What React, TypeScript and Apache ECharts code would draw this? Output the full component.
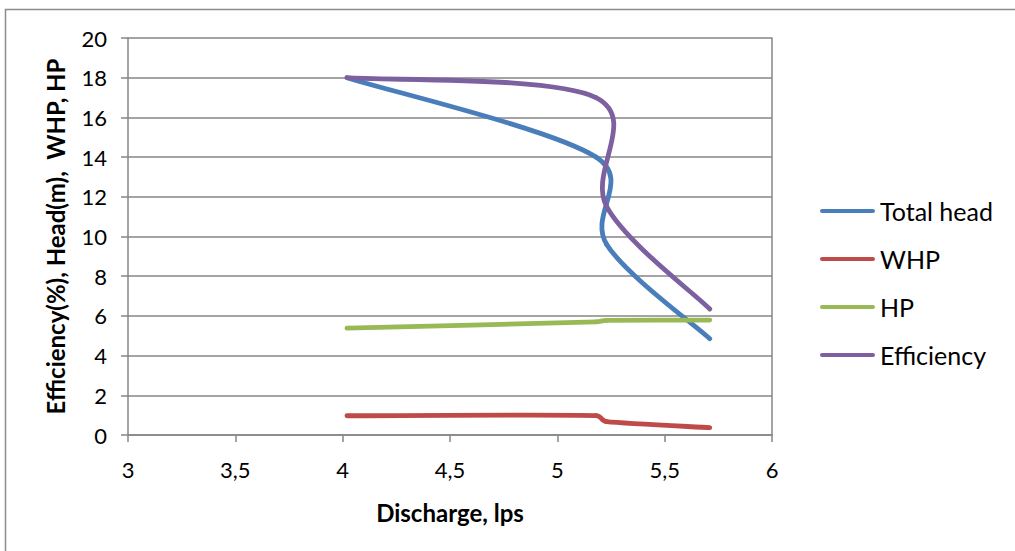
import React, { useEffect, useRef } from "react";
import * as echarts from "echarts";

// ---- data ----
const discharge = [4.02, 5.18, 5.23, 5.71];
const totalHead = [18.0, 14.0, 9.6, 4.85];
const whp = [0.97, 0.98, 0.67, 0.37];
const hp = [5.38, 5.7, 5.77, 5.79];
const efficiency = [18.0, 17.0, 11.5, 6.35];

const seriesNames = ["Total head", "WHP", "HP", "Efficiency"];
const seriesValues = [totalHead, whp, hp, efficiency];
const seriesColors = ["#4A7EBB", "#BE4B48", "#98B954", "#7D60A0"];

const xMin = 3;
const xMax = 6;
const xStep = 0.5;
const yMin = 0;
const yMax = 20;
const yStep = 2;

const xTitle = "Discharge, lps";
const yTitle = "Efficiency(%), Head(m),  WHP, HP";

const FONT = "Lato, 'Liberation Sans', sans-serif";
const GRID = "#868686";

function dist(a: number[], b: number[]) {
  const dx = a[0] - b[0];
  const dy = a[1] - b[1];
  return Math.sqrt(dx * dx + dy * dy);
}

// Excel-style smoothed scatter line, computed in pixel space from axis coords
function makeRender(ys: number[], color: string) {
  return (params: any, api: any) => {
    if (params.dataIndex !== 0) return null;
    const pts = discharge.map((x, i) => api.coord([x, ys[i]]));
    const children: any[] = [];
    for (let i = 0; i < pts.length - 1; i++) {
      const p1 = pts[i];
      const p2 = pts[i + 1];
      const p0 = i > 0 ? pts[i - 1] : p1;
      const p3 = i + 2 < pts.length ? pts[i + 2] : p2;
      const d12 = dist(p1, p2);
      const d02 = dist(p0, p2);
      const d13 = dist(p1, p3);
      let f0 = 1 / 6;
      let f1 = 1 / 6;
      if (d02 / 6 >= d12 / 2 && d02 > 0) f0 = d12 / d02 / 2;
      if (d13 / 6 >= d12 / 2 && d13 > 0) f1 = d12 / d13 / 2;
      children.push({
        type: "bezierCurve",
        shape: {
          x1: p1[0],
          y1: p1[1],
          x2: p2[0],
          y2: p2[1],
          cpx1: p1[0] + (p2[0] - p0[0]) * f0,
          cpy1: p1[1] + (p2[1] - p0[1]) * f0,
          cpx2: p2[0] - (p3[0] - p1[0]) * f1,
          cpy2: p2[1] - (p3[1] - p1[1]) * f1,
        },
        style: { stroke: color, lineWidth: 4.8, fill: "none", lineCap: "round" },
      });
    }
    return { type: "group", children };
  };
}

export default function App() {
  const ref = useRef<HTMLDivElement>(null);

  useEffect(() => {
    document.body.style.margin = "0";
    if (!ref.current) return;
    const chart = echarts.init(ref.current, null, { renderer: "svg" });

    const lineIcon = "path://M2,0 L52,0 A2,2 0 0 1 52,4 L2,4 A2,2 0 0 1 2,0 Z";

    chart.setOption({
      animation: false,
      backgroundColor: "#ffffff",
      textStyle: { fontFamily: FONT },
      graphic: [
        {
          type: "rect",
          shape: { x: 5.5, y: 9.5, width: 1200, height: 800 },
          style: { fill: "none", stroke: "#8c8c8c", lineWidth: 1.5 },
          silent: true,
        },
      ],
      grid: { left: 128, right: 243, top: 38, bottom: 116 },
      legend: {
        orient: "vertical",
        left: 815,
        top: 193,
        itemWidth: 55,
        itemHeight: 5,
        itemGap: 22,
        data: seriesNames.map((n) => ({ name: n, icon: lineIcon })),
        textStyle: { fontFamily: FONT, fontSize: 25, lineHeight: 26, color: "#000" },
      },
      xAxis: {
        type: "value",
        min: xMin,
        max: xMax,
        interval: xStep,
        name: xTitle,
        nameLocation: "middle",
        nameGap: 63,
        nameTextStyle: { fontFamily: FONT, fontSize: 24, fontWeight: "bold", color: "#000", lineHeight: 28 },
        axisLine: { show: true, lineStyle: { color: GRID, width: 1.5 } },
        axisTick: { show: true, length: 7, lineStyle: { color: GRID, width: 1.5 } },
        splitLine: { show: false },
        axisLabel: {
          margin: 21,
          fontFamily: FONT,
          fontSize: 22,
          lineHeight: 26,
          color: "#000",
          formatter: (v: number) => String(v).replace(".", ","),
        },
      },
      yAxis: [
        {
          type: "value",
          min: yMin,
          max: yMax,
          interval: yStep,
          name: yTitle,
          nameLocation: "middle",
          nameRotate: 90,
          nameGap: 59,
          nameTextStyle: { fontFamily: FONT, fontSize: 24, fontWeight: "bold", color: "#000", lineHeight: 28 },
          axisLine: { show: true, lineStyle: { color: GRID, width: 1.5 } },
          axisTick: { show: true, length: 7, lineStyle: { color: GRID, width: 1.5 } },
          splitLine: { show: true, lineStyle: { color: GRID, width: 1.5 } },
          axisLabel: { margin: 21, fontFamily: FONT, fontSize: 22, color: "#000" },
        },
        {
          type: "value",
          min: yMin,
          max: yMax,
          interval: yStep,
          position: "right",
          axisLine: { show: true, lineStyle: { color: GRID, width: 1.5 } },
          axisTick: { show: false },
          axisLabel: { show: false },
          splitLine: { show: false },
        },
      ],
      series: seriesNames.map((name, k) => ({
        name,
        type: "custom",
        coordinateSystem: "cartesian2d",
        clip: false,
        itemStyle: { color: seriesColors[k] },
        encode: { x: 0, y: 1 },
        data: discharge.map((x, i) => [x, seriesValues[k][i]]),
        renderItem: makeRender(seriesValues[k], seriesColors[k]),
      })),
    });

    return () => chart.dispose();
  }, []);

  return (
    <div
      ref={ref}
      style={{ position: "absolute", left: 0, top: 0, width: 1015, height: 551 }}
    />
  );
}
